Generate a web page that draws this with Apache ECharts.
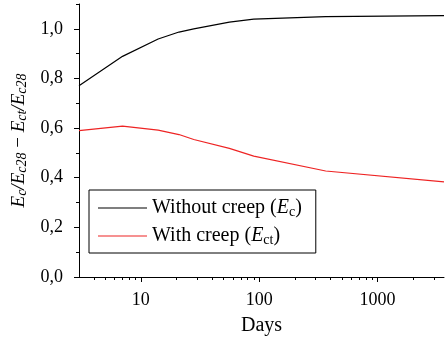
<!DOCTYPE html>
<html>
<head>
<meta charset="utf-8">
<script src="https://cdn.jsdelivr.net/npm/echarts@6/dist/echarts.min.js"></script>
<style>
  html, body { margin: 0; padding: 0; background: #fff; }
  #chart { width: 445px; height: 341px; }
</style>
</head>
<body>
<div id="chart"></div>
<script>
	// data
	var days = [3, 7, 14, 21, 28, 56, 90, 365, 3650];
	var withoutCreep = [0.771, 0.889, 0.959, 0.987, 1.000, 1.027, 1.039, 1.049, 1.053];
	var withCreep = [0.590, 0.608, 0.592, 0.574, 0.554, 0.518, 0.487, 0.427, 0.383];

	var xMajor = [10, 100, 1000];
	var xMinor = [4, 5, 6, 7, 8, 9, 20, 30, 40, 50, 60, 70, 80, 90, 200, 300, 400, 500, 600, 700, 800, 900, 2000, 3000];
	var yMajor = [0, 0.2, 0.4, 0.6, 0.8, 1.0];
	var yMinor = [0.1, 0.3, 0.5, 0.7, 0.9, 1.1];

	function pairs(xs, ys) {
		var out = [];
		for (var i = 0; i < xs.length; i++) out.push([xs[i], ys[i]]);
		return out;
	}

	var font = 'Liberation Serif';
	var chart = echarts.init(document.getElementById('chart'));

	chart.setOption({
		animation: false,
		textStyle: { fontFamily: font, color: '#000' },
		grid: { left: 79, right: 1, top: 4, bottom: 63 },
		legend: {
			orient: 'vertical',
			left: 89,
			top: 190,
			padding: [8, 14, 6, 9],
			itemGap: 7,
			itemWidth: 49,
			itemHeight: 1.2,
			icon: 'rect',
			borderColor: '#000',
			borderWidth: 1,
			data: ['without', 'with'],
			formatter: function (name) {
				if (name === 'without') return '{t|Without creep (}{i|E}{s|c}{t|)}';
				return '{t|With creep (}{i|E}{s|ct}{t|)}';
			},
			textStyle: {
				fontFamily: font,
				fontSize: 20,
				lineHeight: 20,
				color: '#000',
				rich: {
					t: { fontFamily: font, fontSize: 20, color: '#000' },
					i: { fontFamily: font, fontSize: 20, fontStyle: 'italic', color: '#000' },
					s: { fontFamily: font, fontSize: 14, color: '#000', padding: [8, 0, 0, 0] }
				}
			}
		},
		xAxis: [{
			type: 'log',
			min: 3,
			max: 3650,
			name: 'Days',
			nameLocation: 'middle',
			nameGap: 39,
			nameTextStyle: { fontFamily: font, fontSize: 20, color: '#000' },
			axisLine: { lineStyle: { color: '#000', width: 1 } },
			axisTick: { length: 5, customValues: xMajor, lineStyle: { color: '#000' } },
			axisLabel: {
				customValues: xMajor,
				margin: 14,
				fontFamily: font,
				fontSize: 18,
				color: '#000',
				formatter: function (v) { return String(Math.round(v)); }
			},
			splitLine: { show: false }
		}, {
			type: 'log',
			min: 3,
			max: 3650,
			position: 'bottom',
			axisLine: { show: false },
			axisTick: { length: 3, customValues: xMinor, lineStyle: { color: '#000' } },
			axisLabel: { show: false },
			splitLine: { show: false }
		}],
		yAxis: [{
			type: 'value',
			min: 0,
			max: 1.1,
			position: 'left',
			name: '{i|E}{s|c}{i|/E}{s|c28}{n| − }{i|E}{s|ct}{i|/E}{s|c28}',
			nameLocation: 'middle',
			nameGap: 48,
			nameRotate: 90,
			nameTextStyle: {
				fontFamily: font,
				fontSize: 19,
				color: '#000',
				rich: {
					i: { fontFamily: font, fontSize: 19, fontStyle: 'italic', color: '#000' },
					n: { fontFamily: font, fontSize: 19, color: '#000' },
					s: { fontFamily: font, fontSize: 14, fontStyle: 'italic', color: '#000', padding: [8, 0, 0, 0] }
				}
			},
			axisLine: { show: true, lineStyle: { color: '#000', width: 1 } },
			axisTick: { show: true, length: 5, customValues: yMajor, lineStyle: { color: '#000' } },
			axisLabel: {
				customValues: yMajor,
				margin: 16,
				fontFamily: font,
				fontSize: 18,
				color: '#000',
				formatter: function (v) { return v.toFixed(1).replace('.', ','); }
			},
			splitLine: { show: false }
		}, {
			type: 'value',
			min: 0,
			max: 1.1,
			position: 'left',
			axisLine: { show: false },
			axisTick: { show: true, length: 3, customValues: yMinor, lineStyle: { color: '#000' } },
			axisLabel: { show: false },
			splitLine: { show: false }
		}],
		series: [{
			name: 'without',
			type: 'line',
			symbol: 'none',
			color: '#000',
			lineStyle: { color: '#000', width: 1.2 },
			data: pairs(days, withoutCreep)
		}, {
			name: 'with',
			type: 'line',
			symbol: 'none',
			color: '#ee2424',
			lineStyle: { color: '#ee2424', width: 1.2 },
			data: pairs(days, withCreep)
		}]
	});
</script>
</body>
</html>
